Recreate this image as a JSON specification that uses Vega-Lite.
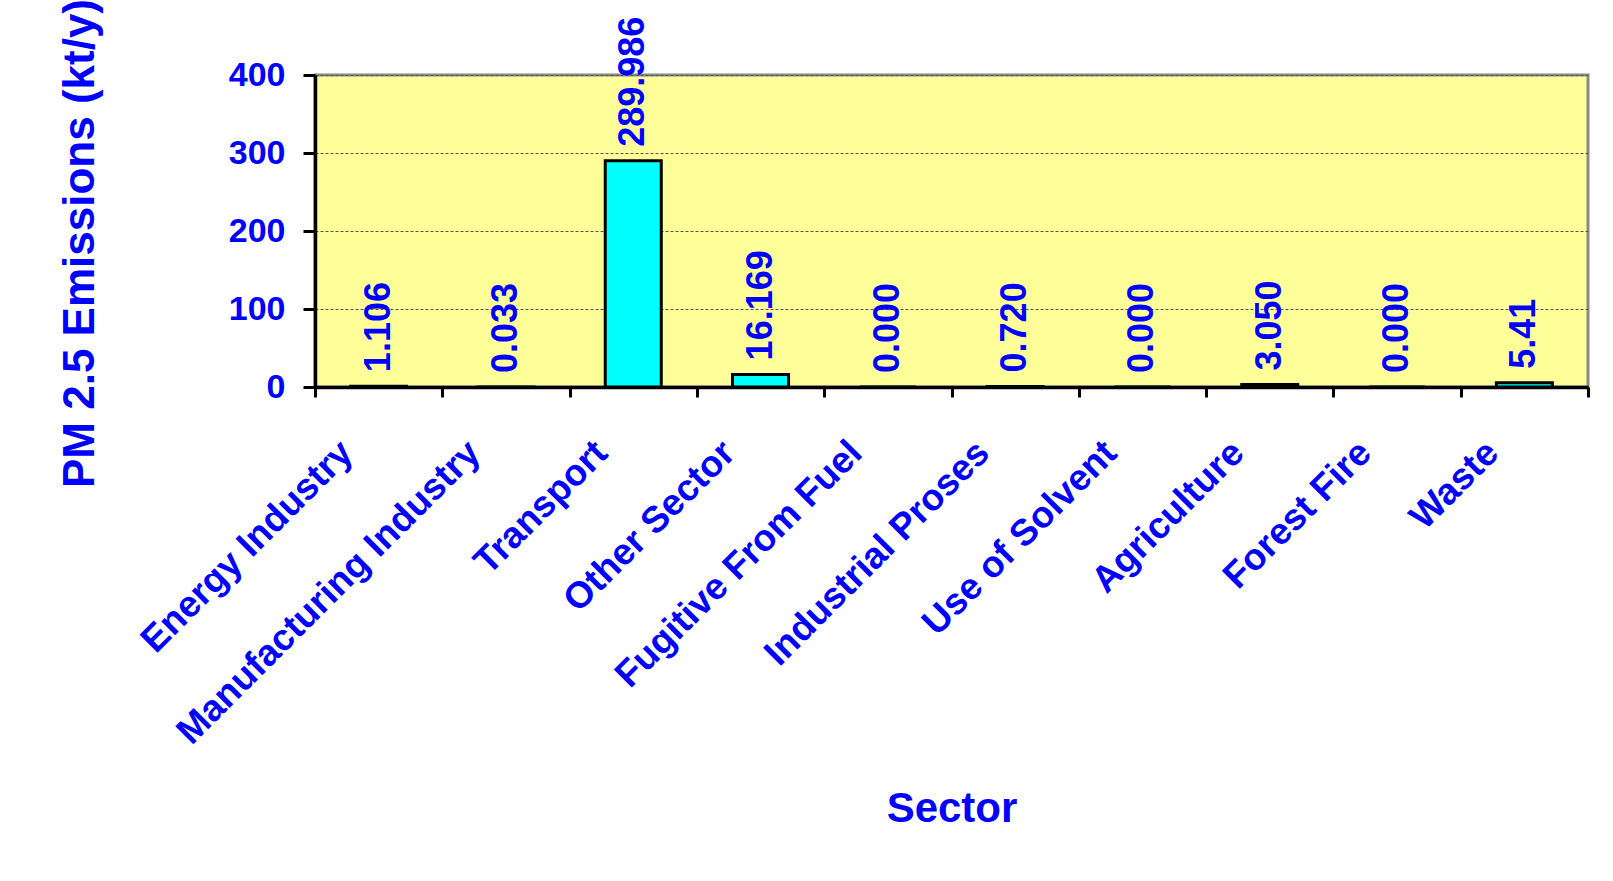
{
  "$schema": "https://vega.github.io/schema/vega-lite/v6.json",
  "autosize": {"type": "none"},
  "width": 1273,
  "height": 312,
  "padding": {"left": 315, "top": 75, "right": 25, "bottom": 494},
  "background": "#FFFFFF",
  "config": {
    "font": "Liberation Sans",
    "view": {"fill": "#FFFF99", "stroke": "#888888", "strokeWidth": 3}
  },
  "data": {
    "values": [
      {"Sector": "Energy Industry", "value": 1.106, "label": "1.106"},
      {"Sector": "Manufacturing Industry", "value": 0.033, "label": "0.033"},
      {"Sector": "Transport", "value": 289.986, "label": "289.986"},
      {"Sector": "Other Sector", "value": 16.169, "label": "16.169"},
      {"Sector": "Fugitive From Fuel", "value": 0.0, "label": "0.000"},
      {"Sector": "Industrial Proses", "value": 0.72, "label": "0.720"},
      {"Sector": "Use of Solvent", "value": 0.0, "label": "0.000"},
      {"Sector": "Agriculture", "value": 3.05, "label": "3.050"},
      {"Sector": "Forest Fire", "value": 0.0, "label": "0.000"},
      {"Sector": "Waste", "value": 5.41, "label": "5.41"}
    ]
  },
  "encoding": {
    "x": {
      "field": "Sector",
      "type": "nominal",
      "sort": null,
      "scale": {"paddingInner": 0, "paddingOuter": 0},
      "axis": {
        "title": "Sector",
        "titleFont": "Liberation Sans",
        "titleFontSize": 42,
        "titleFontWeight": "bold",
        "titleColor": "#0000FF",
        "titleBaseline": "alphabetic",
        "titleY": 434,
        "labelAngle": -45,
        "labelAlign": "right",
        "labelBaseline": "middle",
        "labelFont": "Liberation Sans",
        "labelFontSize": 37,
        "labelFontWeight": "bold",
        "labelColor": "#0000FF",
        "labelOffset": -32,
        "labelPadding": 50,
        "labelOverlap": false,
        "labelLimit": 0,
        "tickBand": "extent",
        "tickColor": "#000000",
        "tickWidth": 3,
        "tickSize": 10,
        "domainColor": "#000000",
        "domainWidth": 3.5,
        "grid": false
      }
    },
    "y": {
      "field": "value",
      "type": "quantitative",
      "scale": {"domain": [0, 400], "nice": false},
      "axis": {
        "title": "PM 2.5 Emissions (kt/y)",
        "titleFont": "Liberation Sans",
        "titleFontSize": 44,
        "titleFontWeight": "bold",
        "titleColor": "#0000FF",
        "titleBaseline": "alphabetic",
        "titleAngle": -90,
        "titleX": -222,
        "titleY": 168,
        "values": [0, 100, 200, 300, 400],
        "labelFont": "Liberation Sans",
        "labelFontSize": 34,
        "labelFontWeight": "bold",
        "labelColor": "#0000FF",
        "labelPadding": 18,
        "tickColor": "#000000",
        "tickWidth": 3,
        "tickSize": 12,
        "domainColor": "#000000",
        "domainWidth": 3.5,
        "grid": true,
        "gridColor": "#555555",
        "gridDash": [3, 2],
        "gridWidth": 1
      }
    }
  },
  "layer": [
    {
      "mark": {"type": "bar", "width": {"band": 0.44}, "fill": "#00FFFF", "stroke": "#000000", "strokeWidth": 3}
    },
    {
      "mark": {
        "type": "text",
        "angle": -90,
        "align": "left",
        "baseline": "middle",
        "dx": 14,
        "font": "Liberation Sans",
        "fontSize": 36,
        "fontWeight": "bold",
        "color": "#0000FF"
      },
      "encoding": {"text": {"field": "label"}}
    }
  ]
}
